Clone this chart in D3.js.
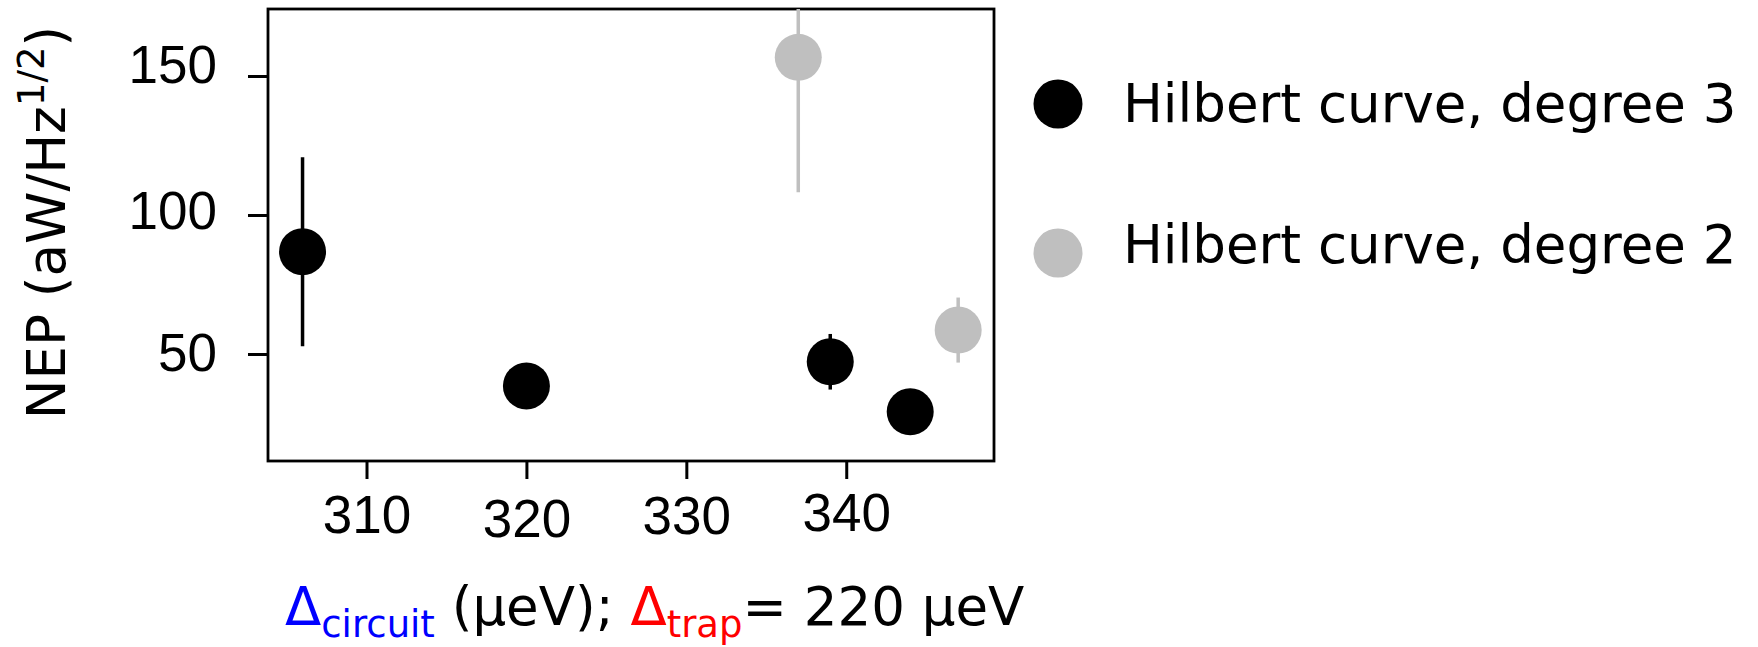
<!DOCTYPE html>
<html>
<head>
<meta charset="utf-8">
<script src="https://cdn.jsdelivr.net/npm/d3@7"></script>
<style>
  body { margin: 0; background: #fff; }
  svg { display: block; font-family: "DejaVu Sans", sans-serif; }
</style>
</head>
<body>
<svg width="1758" height="647"></svg>
<script>
// datos
const gap3 = [306, 320, 339, 344];      // Delta circuit (ueV), grado 3
const nep3 = [86.8, 38.5, 47.2, 29.2];
const err3 = [34, 4, 10, 7];

const gap2 = [337, 347];                // grado 2
const nep2 = [156.7, 58.6];
const err2 = [48.5, 11.7];

const xTicks = [310, 320, 330, 340];
const yTicks = [50, 100, 150];
const seriesNames = ["Hilbert curve, degree 3", "Hilbert curve, degree 2"];
const seriesColors = ["#000000", "#bfbfbf"];

const svg = d3.select("svg"),
	fs = 53,
	r = 23.5;

// marco del grafico
const pLeft = 268, pRight = 994, pTop = 9, pBottom = 461;

const x = d3.scaleLinear().domain([303.84, 349.24]).range([pLeft, pRight]);
const y = d3.scaleLinear().domain([11.5, 174.1]).range([pBottom, pTop]);

svg.append("defs").append("clipPath").attr("id", "plot")
	.append("rect")
	.attr("x", pLeft).attr("y", pTop)
	.attr("width", pRight - pLeft).attr("height", pBottom - pTop);

// ejes
const xAxis = svg.append("g")
	.attr("transform", "translate(0," + pBottom + ")")
	.call(d3.axisBottom(x).tickValues(xTicks).tickSize(18).tickPadding(16));
const yAxis = svg.append("g")
	.attr("transform", "translate(" + pLeft + ",0)")
	.call(d3.axisLeft(y).tickValues(yTicks).tickSize(20).tickPadding(31));

// pequeños desplazamientos de las etiquetas como en el original
const xNudge = {310: 0, 320: 4, 330: 1, 340: -2};
const yNudge = {50: 0, 100: -3, 150: -10};

[xAxis, yAxis].forEach(function(a) {
	a.select(".domain").remove();
	a.selectAll(".tick line").attr("stroke", "#000").attr("stroke-width", 3);
	a.selectAll(".tick text").attr("fill", "#000").style("font-size", fs + "px");
});
xAxis.selectAll(".tick text").attr("y", function(d) { return 34 + xNudge[d]; });
yAxis.selectAll(".tick text").attr("y", function(d) { return yNudge[d]; });

svg.append("rect")
	.attr("x", pLeft).attr("y", pTop)
	.attr("width", pRight - pLeft).attr("height", pBottom - pTop)
	.attr("fill", "none")
	.attr("stroke", "#000")
	.attr("stroke-width", 2.8);

// puntos con barras de error
function drawSeries(xs, ys, es, color) {
	const pts = xs.map(function(d, i) { return {x: d, y: ys[i], e: es[i]}; });
	const g = svg.append("g").attr("clip-path", "url(#plot)");
	g.selectAll("line")
		.data(pts)
		.enter().append("line")
		.attr("x1", function(d) { return x(d.x); })
		.attr("x2", function(d) { return x(d.x); })
		.attr("y1", function(d) { return y(d.y - d.e); })
		.attr("y2", function(d) { return y(d.y + d.e); })
		.attr("stroke", color)
		.attr("stroke-width", 3.5);
	g.selectAll("circle")
		.data(pts)
		.enter().append("circle")
		.attr("cx", function(d) { return x(d.x); })
		.attr("cy", function(d) { return y(d.y); })
		.attr("r", r)
		.attr("fill", color);
}
drawSeries(gap2, nep2, err2, seriesColors[1]);
drawSeries(gap3, nep3, err3, seriesColors[0]);

// leyenda
const legendY = [104, 253], textY = [122, 263];
const legend = svg.append("g");
legend.selectAll("circle")
	.data(seriesNames)
	.enter().append("circle")
	.attr("cx", 1058)
	.attr("cy", function(d, i) { return legendY[i]; })
	.attr("r", 24.5)
	.attr("fill", function(d, i) { return seriesColors[i]; });
legend.selectAll("text")
	.data(seriesNames)
	.enter().append("text")
	.attr("x", 1123)
	.attr("y", function(d, i) { return textY[i]; })
	.style("font-size", fs + "px")
	.text(function(d) { return d; });

// titulo eje y
const yl = svg.append("text")
	.attr("transform", "translate(65,222.5) rotate(-90)")
	.attr("text-anchor", "middle")
	.style("font-size", fs + "px");
yl.append("tspan").text("NEP (aW/Hz");
yl.append("tspan").attr("dy", -21).style("font-size", "37px").text("1/2");
yl.append("tspan").attr("dy", 21).text(")");

// titulo eje x
const xl = svg.append("text")
	.attr("x", 285)
	.attr("y", 625)
	.style("font-size", fs + "px");
xl.append("tspan").attr("fill", "#0000ff").text("Δ");
xl.append("tspan").attr("fill", "#0000ff").attr("dy", 12).style("font-size", "37px").text("circuit");
xl.append("tspan").attr("dy", -12).text(" (μeV); ");
xl.append("tspan").attr("fill", "#ff0000").text("Δ");
xl.append("tspan").attr("fill", "#ff0000").attr("dy", 12).style("font-size", "37px").text("trap");
xl.append("tspan").attr("dy", -12).text("= 220 μeV");
</script>
</body>
</html>
